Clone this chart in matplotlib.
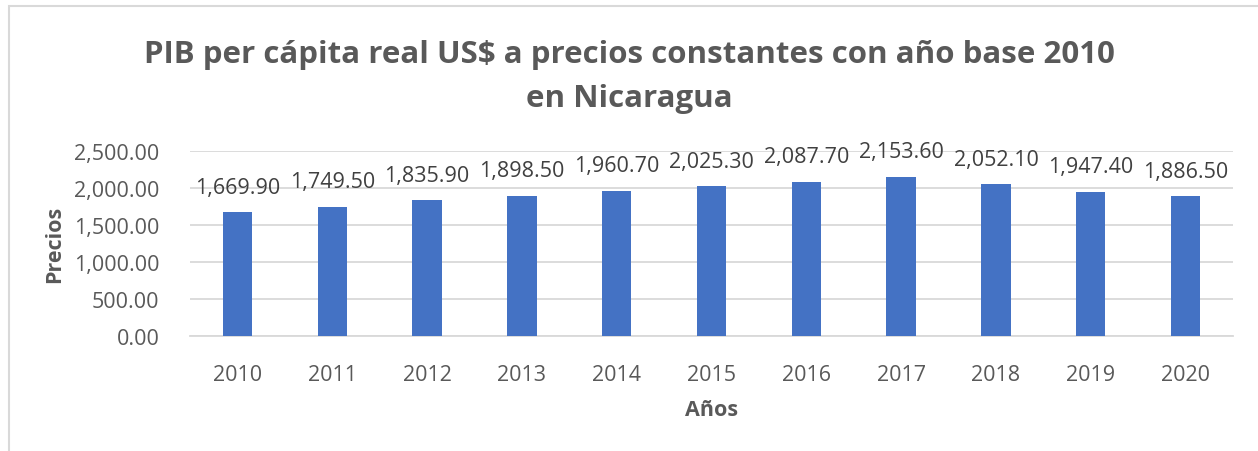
import matplotlib
matplotlib.use("Agg")
import matplotlib.pyplot as plt
from matplotlib.patches import Rectangle

# data
years = ["2010", "2011", "2012", "2013", "2014", "2015", "2016", "2017", "2018", "2019", "2020"]
pib = [1669.90, 1749.50, 1835.90, 1898.50, 1960.70, 2025.30, 2087.70, 2153.60, 2052.10, 1947.40, 1886.50]
yticks = [0, 500, 1000, 1500, 2000, 2500]

txt = "#595959"
plt.rcParams["font.family"] = ["Open Sans", "DejaVu Sans"]

fig = plt.figure(figsize=(12.58, 4.52), dpi=100)
fig.patches.append(Rectangle((9 / 1258, -0.1), 1.2, 1 - 7 / 452 + 0.1, transform=fig.transFigure,
                             fill=False, edgecolor="#D9D9D9", linewidth=1.5))

ax = fig.add_axes([190 / 1258, 1 - 337 / 452, 1043 / 1258, 185 / 452])
x = range(len(years))
ax.bar(x, pib, width=0.31, color="#4472C4", zorder=3)
for i, v in zip(x, pib):
    ax.annotate(f"{v:,.2f}", (i, v), xytext=(0, 18), textcoords="offset points",
                ha="center", va="center", fontsize=15.5, color="#404040")

ax.set_xlim(-0.5, len(years) - 0.5)
ax.set_ylim(0, 2500)
ax.set_yticks(yticks)
ax.set_yticklabels([f"{t:,.2f}" for t in yticks])
ax.set_xticks(list(x))
ax.set_xticklabels(years)
ax.grid(axis="y", color="#D9D9D9", linewidth=1.3, zorder=0)
for s in ["top", "right", "left"]:
    ax.spines[s].set_visible(False)
ax.spines["bottom"].set_color("#D9D9D9")
ax.spines["bottom"].set_linewidth(1.3)
ax.tick_params(length=0, labelsize=15.5, colors=txt)
ax.tick_params(axis="x", pad=20)
ax.tick_params(axis="y", pad=22)

ax.set_xlabel("Años", fontsize=15.5, fontweight="bold", color=txt, labelpad=10)
ax.set_ylabel("Precios", fontsize=15.5, fontweight="bold", color=txt, labelpad=6)

fig.text(0.5, 1 - 55 / 452, "PIB per cápita real US$ a precios constantes con año base 2010",
         ha="center", va="center", fontsize=22.5, fontweight="bold", color=txt)
fig.text(0.5, 1 - 99 / 452, "en Nicaragua",
         ha="center", va="center", fontsize=22.5, fontweight="bold", color=txt)

fig.savefig("out.png", dpi=100)
